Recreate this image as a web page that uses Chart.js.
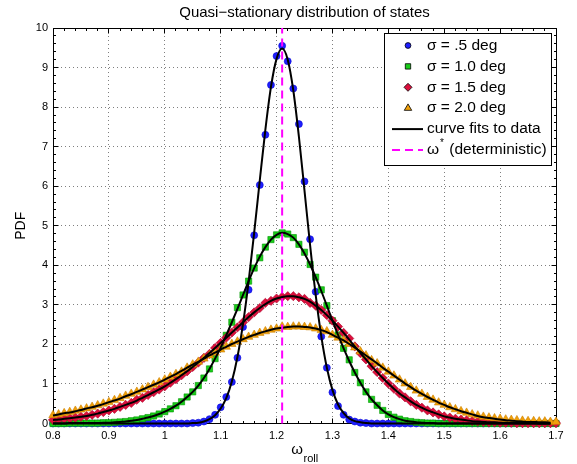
<!DOCTYPE html>
<html>
<head>
<meta charset="utf-8">
<title>Quasi-stationary distribution of states</title>
<script src="https://cdn.jsdelivr.net/npm/chart.js"></script>
<style>
  html, body { margin: 0; padding: 0; background: #fff; }
  canvas { display: block; }
</style>
</head>
<body>
<canvas id="chart" width="577" height="464"></canvas>
<script>
// bin centres of omega_roll
const omega = [
  0.80, 0.81, 0.82, 0.83, 0.84, 0.85, 0.86, 0.87, 0.88, 0.89,
  0.90, 0.91, 0.92, 0.93, 0.94, 0.95, 0.96, 0.97, 0.98, 0.99,
  1.00, 1.01, 1.02, 1.03, 1.04, 1.05, 1.06, 1.07, 1.08, 1.09,
  1.10, 1.11, 1.12, 1.13, 1.14, 1.15, 1.16, 1.17, 1.18, 1.19,
  1.20, 1.21, 1.22, 1.23, 1.24, 1.25, 1.26, 1.27, 1.28, 1.29,
  1.30, 1.31, 1.32, 1.33, 1.34, 1.35, 1.36, 1.37, 1.38, 1.39,
  1.40, 1.41, 1.42, 1.43, 1.44, 1.45, 1.46, 1.47, 1.48, 1.49,
  1.50, 1.51, 1.52, 1.53, 1.54, 1.55, 1.56, 1.57, 1.58, 1.59,
  1.60, 1.61, 1.62, 1.63, 1.64, 1.65, 1.66, 1.67, 1.68, 1.69,
  1.70
];

// sigma = .5 deg
const pdfSigma05 = [
  0, 0, 0, 0, 0, 0, 0, 0, 0, 0,
  0, 0, 0, 0, 0, 0, 0, 0, 0, 0,
  0, 0, 0, 0, 0, 0.01, 0.02, 0.05, 0.11, 0.22,
  0.41, 0.67, 1.05, 1.66, 2.44, 3.38, 4.76, 6.03, 7.30, 8.56,
  9.29, 9.55, 9.16, 8.47, 7.57, 6.12, 4.66, 3.33, 2.20, 1.41,
  0.79, 0.44, 0.22, 0.10, 0.05, 0.02, 0.01, 0, 0, 0,
  0, 0, 0, 0, 0, 0, 0, 0, 0, 0,
  0, 0, 0, 0, 0, 0, 0, 0, 0, 0,
  0, 0, 0, 0, 0, 0, 0, 0, 0, 0,
  0
];
const fitSigma05 = [
  0, 0, 0, 0, 0, 0, 0, 0, 0, 0,
  0, 0, 0, 0, 0, 0, 0, 0, 0, 0,
  0, 0, 0, 0, 0, 0.01, 0.02, 0.05, 0.11, 0.21,
  0.38, 0.64, 1.06, 1.68, 2.52, 3.59, 4.83, 6.15, 7.43, 8.51,
  9.22, 9.48, 9.20, 8.42, 7.25, 5.89, 4.51, 3.25, 2.21, 1.41,
  0.85, 0.48, 0.26, 0.13, 0.06, 0.03, 0.01, 0, 0, 0,
  0, 0, 0, 0, 0, 0, 0, 0, 0, 0,
  0, 0, 0, 0, 0, 0, 0, 0, 0, 0,
  0, 0, 0, 0, 0, 0, 0, 0, 0, 0,
  null
];

// sigma = 1.0 deg
const pdfSigma10 = [
  0, 0, 0, 0.01, 0.01, 0.01, 0.01, 0.01, 0.01, 0.02,
  0.02, 0.03, 0.04, 0.05, 0.07, 0.09, 0.12, 0.15, 0.19, 0.24,
  0.30, 0.37, 0.45, 0.55, 0.67, 0.80, 0.96, 1.15, 1.38, 1.64,
  1.92, 2.23, 2.56, 2.93, 3.25, 3.60, 3.93, 4.19, 4.46, 4.65,
  4.77, 4.82, 4.79, 4.70, 4.53, 4.33, 4.02, 3.70, 3.38, 2.98,
  2.60, 2.24, 1.90, 1.61, 1.29, 1.03, 0.80, 0.61, 0.46, 0.33,
  0.23, 0.16, 0.11, 0.07, 0.05, 0.03, 0.02, 0.01, 0.01, 0,
  0, 0, 0, 0, 0, 0, 0, 0, 0, 0,
  0, 0, 0, 0, 0, 0, 0, 0, 0, 0,
  0
];
const fitSigma10 = [
  0, 0, 0, 0.01, 0.01, 0.01, 0.01, 0.01, 0.01, 0.02,
  0.02, 0.03, 0.04, 0.05, 0.07, 0.09, 0.12, 0.15, 0.19, 0.24,
  0.30, 0.37, 0.45, 0.55, 0.67, 0.80, 0.96, 1.15, 1.38, 1.64,
  1.92, 2.23, 2.56, 2.90, 3.25, 3.60, 3.93, 4.22, 4.46, 4.65,
  4.77, 4.82, 4.79, 4.70, 4.53, 4.30, 4.02, 3.70, 3.35, 2.98,
  2.60, 2.24, 1.90, 1.58, 1.29, 1.03, 0.80, 0.61, 0.46, 0.33,
  0.23, 0.16, 0.11, 0.07, 0.05, 0.03, 0.02, 0.01, 0.01, 0,
  0, 0, 0, 0, 0, 0, 0, 0, 0, 0,
  0, 0, 0, 0, 0, 0, 0, 0, 0, 0,
  null
];

// sigma = 1.5 deg
const pdfSigma15 = [
  0.09, 0.10, 0.12, 0.13, 0.15, 0.17, 0.19, 0.22, 0.25, 0.29,
  0.33, 0.37, 0.42, 0.47, 0.52, 0.60, 0.65, 0.72, 0.79, 0.86,
  0.94, 1.03, 1.12, 1.22, 1.32, 1.43, 1.54, 1.66, 1.76, 1.91,
  2.04, 2.17, 2.30, 2.43, 2.56, 2.69, 2.81, 2.92, 3.05, 3.10,
  3.16, 3.20, 3.22, 3.22, 3.19, 3.15, 3.05, 2.98, 2.87, 2.74,
  2.60, 2.45, 2.29, 2.15, 1.95, 1.78, 1.62, 1.45, 1.30, 1.15,
  1.01, 0.88, 0.76, 0.66, 0.56, 0.47, 0.40, 0.33, 0.28, 0.23,
  0.18, 0.15, 0.12, 0.10, 0.08, 0.06, 0.05, 0.04, 0.03, 0.03,
  0.02, 0.02, 0.02, 0.01, 0.01, 0.01, 0.01, 0.01, 0.01, 0.01,
  0.01
];
const fitSigma15 = [
  0.09, 0.10, 0.12, 0.13, 0.15, 0.17, 0.19, 0.22, 0.25, 0.29,
  0.33, 0.37, 0.42, 0.47, 0.52, 0.58, 0.65, 0.72, 0.79, 0.86,
  0.94, 1.03, 1.12, 1.22, 1.32, 1.43, 1.54, 1.66, 1.78, 1.91,
  2.04, 2.17, 2.30, 2.43, 2.56, 2.69, 2.81, 2.92, 3.02, 3.10,
  3.16, 3.20, 3.22, 3.22, 3.19, 3.15, 3.08, 2.98, 2.87, 2.74,
  2.60, 2.45, 2.29, 2.12, 1.95, 1.78, 1.62, 1.45, 1.30, 1.15,
  1.01, 0.88, 0.76, 0.66, 0.56, 0.47, 0.40, 0.33, 0.28, 0.23,
  0.18, 0.15, 0.12, 0.10, 0.08, 0.06, 0.05, 0.04, 0.03, 0.03,
  0.02, 0.02, 0.01, 0.01, 0.01, 0.01, 0.01, 0, 0, 0,
  null
];

// sigma = 2.0 deg
const pdfSigma20 = [
  0.21, 0.23, 0.26, 0.29, 0.32, 0.35, 0.38, 0.42, 0.46, 0.50,
  0.54, 0.59, 0.64, 0.70, 0.75, 0.80, 0.86, 0.92, 0.98, 1.04,
  1.11, 1.18, 1.25, 1.31, 1.41, 1.49, 1.56, 1.64, 1.72, 1.79,
  1.87, 1.94, 2.01, 2.07, 2.13, 2.19, 2.24, 2.29, 2.33, 2.37,
  2.40, 2.45, 2.44, 2.45, 2.45, 2.44, 2.43, 2.40, 2.36, 2.33,
  2.24, 2.17, 2.10, 2.01, 1.92, 1.82, 1.72, 1.60, 1.52, 1.41,
  1.31, 1.21, 1.11, 1.01, 0.92, 0.83, 0.75, 0.67, 0.60, 0.53,
  0.47, 0.41, 0.36, 0.31, 0.27, 0.23, 0.20, 0.17, 0.15, 0.13,
  0.12, 0.10, 0.09, 0.08, 0.07, 0.06, 0.06, 0.05, 0.05, 0.04,
  0.04
];
const fitSigma20 = [
  0.20, 0.23, 0.26, 0.28, 0.31, 0.34, 0.38, 0.41, 0.45, 0.49,
  0.54, 0.58, 0.63, 0.69, 0.74, 0.80, 0.86, 0.92, 0.98, 1.04,
  1.11, 1.18, 1.25, 1.33, 1.41, 1.49, 1.56, 1.64, 1.72, 1.79,
  1.87, 1.94, 2.01, 2.07, 2.13, 2.19, 2.24, 2.29, 2.33, 2.37,
  2.40, 2.42, 2.44, 2.45, 2.45, 2.44, 2.43, 2.40, 2.36, 2.31,
  2.24, 2.17, 2.10, 2.01, 1.92, 1.82, 1.72, 1.62, 1.52, 1.41,
  1.31, 1.21, 1.11, 1.01, 0.92, 0.83, 0.75, 0.67, 0.60, 0.53,
  0.47, 0.41, 0.36, 0.31, 0.27, 0.23, 0.19, 0.16, 0.14, 0.12,
  0.10, 0.08, 0.07, 0.06, 0.05, 0.04, 0.04, 0.03, 0.03, 0.02,
  null
];

const omegaStar = 1.21;   // deterministic value

const seriesLabels = ['σ = .5 deg', 'σ = 1.0 deg', 'σ = 1.5 deg', 'σ = 2.0 deg'];
const fitLabel = 'curve fits to data';
const starLabel = ' (deterministic)';

const xTickValues = [0.8, 0.9, 1.0, 1.1, 1.2, 1.3, 1.4, 1.5, 1.6, 1.7];
const xTickLabels = ['0.8', '0.9', '1', '1.1', '1.2', '1.3', '1.4', '1.5', '1.6', '1.7'];
const yTickValues = [0, 1, 2, 3, 4, 5, 6, 7, 8, 9, 10];
const yTickLabels = ['0', '1', '2', '3', '4', '5', '6', '7', '8', '9', '10'];

const chartTitle = 'Quasi\u2212stationary distribution of states';
const yTitle = 'PDF';

const FONT = '"Liberation Sans", Arial, Helvetica, sans-serif';

const markers = [
  { data: pdfSigma05, style: 'circle',   radius: 3.5, fill: 'rgb(30,30,255)',  edge: 'rgb(10,10,210)' },
  { data: pdfSigma10, style: 'rect',     radius: 4.4, fill: 'rgb(25,205,25)',  edge: 'rgb(0,150,0)' },
  { data: pdfSigma15, style: 'rectRot',  radius: 4.6, fill: 'rgb(220,15,60)',  edge: 'rgb(170,0,40)' },
  { data: pdfSigma20, style: 'triangle', radius: 4.9, fill: 'rgb(240,160,10)', edge: 'rgb(205,130,0)' }
];
const fits = [fitSigma05, fitSigma10, fitSigma15, fitSigma20];

function toPoints(ys) {
  return omega.map((x, i) => ({ x: x, y: ys[i] }));
}

const datasets = [];
datasets.push({
  label: 'omega*',
  data: [{ x: omegaStar, y: 0 }, { x: omegaStar, y: 10 }],
  borderColor: '#ff00ff', borderWidth: 2, borderDash: [8, 5],
  pointRadius: 0, order: 0, clip: false
});
fits.forEach(f => datasets.push({
  label: fitLabel, data: toPoints(f),
  borderColor: '#000', borderWidth: 2, pointRadius: 0,
  cubicInterpolationMode: 'monotone', order: 1, clip: false
}));
markers.forEach((m, i) => datasets.push({
  label: seriesLabels[i], data: toPoints(m.data),
  showLine: false, pointStyle: m.style, pointRadius: m.radius,
  pointBackgroundColor: m.fill, pointBorderColor: m.edge, pointBorderWidth: 0.6,
  order: 5 - i, clip: false
}));

function crisp(v) { return Math.round(v - 0.5) + 0.5 }

const matlabAxes = {
  id: 'matlabAxes',
  beforeDatasetsDraw(chart) {
    const { ctx, chartArea: a, scales: { x, y } } = chart;
    const L = crisp(a.left), R = crisp(a.right), T = crisp(a.top), B = crisp(a.bottom);
    ctx.save();
    ctx.strokeStyle = '#000';
    ctx.lineWidth = 1;
    ctx.beginPath();
    ctx.rect(L, T, R - L, B - T);
    const xt = x.ticks.map(t => t.value), yt = y.ticks.map(t => t.value);
    xt.forEach((v, i) => {
      const p = crisp(x.getPixelForValue(v));
      ctx.moveTo(p, B); ctx.lineTo(p, B - 5);
      ctx.moveTo(p, T); ctx.lineTo(p, T + 5);
      if (i < xt.length - 1) {
        for (let k = 1; k < 5; k++) {
          const q = crisp(x.getPixelForValue(v + (xt[i + 1] - v) * k / 5));
          ctx.moveTo(q, B); ctx.lineTo(q, B - 2.5);
          ctx.moveTo(q, T); ctx.lineTo(q, T + 2.5);
        }
      }
    });
    yt.forEach((v, i) => {
      const p = crisp(y.getPixelForValue(v));
      ctx.moveTo(L, p); ctx.lineTo(L + 5, p);
      ctx.moveTo(R, p); ctx.lineTo(R - 5, p);
      if (i < yt.length - 1) {
        for (let k = 1; k < 5; k++) {
          const q = crisp(y.getPixelForValue(v + (yt[i + 1] - v) * k / 5));
          ctx.moveTo(L, q); ctx.lineTo(L + 2.5, q);
          ctx.moveTo(R, q); ctx.lineTo(R - 2.5, q);
        }
      }
    });
    ctx.stroke();
    ctx.restore();
  },
  afterDraw(chart) {
    const { ctx, chartArea: a } = chart;
    const cx = (a.left + a.right) / 2;
    ctx.save();
    ctx.fillStyle = '#000';

    // title
    ctx.font = '15px ' + FONT;
    ctx.textAlign = 'center';
    ctx.textBaseline = 'middle';
    ctx.fillText(chartTitle, cx, 13);

    // y title
    ctx.save();
    ctx.translate(21, (a.top + a.bottom) / 2);
    ctx.rotate(-Math.PI / 2);
    ctx.font = '14px ' + FONT;
    ctx.fillText(yTitle, 0, 0);
    ctx.restore();

    // x title: omega with subscript "roll"
    ctx.textAlign = 'left';
    ctx.font = '15px ' + FONT;
    const w1 = ctx.measureText('ω').width;
    ctx.font = '11px ' + FONT;
    const w2 = ctx.measureText('roll').width;
    const sx = cx - (w1 + w2) / 2;
    ctx.font = '15px ' + FONT;
    ctx.fillText('ω', sx, 450);
    ctx.font = '11px ' + FONT;
    ctx.fillText('roll', sx + w1 + 0.5, 459);

    // legend
    const bx = 384.5, by = 33.5, bw = 167, bh = 132;
    ctx.fillStyle = '#fff';
    ctx.fillRect(bx, by, bw, bh);
    ctx.strokeStyle = '#000';
    ctx.lineWidth = 1;
    ctx.strokeRect(bx, by, bw, bh);

    const rowY = i => 45.5 + i * 20.9;
    const textX = 427;
    ctx.font = '15.5px ' + FONT;
    ctx.textBaseline = 'middle';
    markers.forEach((m, i) => {
      ctx.fillStyle = m.fill;
      ctx.strokeStyle = '#000';
      ctx.lineWidth = 0.8;
      Chart.helpers.drawPoint(ctx, { pointStyle: m.style, radius: m.radius - 0.6, rotation: 0, borderWidth: 0.8 }, 408, rowY(i));
      ctx.fillStyle = '#000';
      ctx.font = '15.5px ' + FONT;
      ctx.fillText(seriesLabels[i], textX, rowY(i));
    });
    // fit line sample
    ctx.strokeStyle = '#000';
    ctx.lineWidth = 2;
    ctx.setLineDash([]);
    ctx.beginPath();
    ctx.moveTo(392, rowY(4)); ctx.lineTo(423, rowY(4));
    ctx.stroke();
    ctx.fillStyle = '#000';
    ctx.fillText(fitLabel, textX, rowY(4));
    // omega* sample
    ctx.strokeStyle = '#ff00ff';
    ctx.setLineDash([8, 5]);
    ctx.beginPath();
    ctx.moveTo(392, rowY(5)); ctx.lineTo(423, rowY(5));
    ctx.stroke();
    ctx.setLineDash([]);
    ctx.fillText('ω', textX, rowY(5));
    const wo = ctx.measureText('ω').width;
    ctx.font = '10px ' + FONT;
    ctx.fillText('*', textX + wo + 1, rowY(5) - 7);
    const ws = ctx.measureText('*').width;
    ctx.font = '15.5px ' + FONT;
    ctx.fillText(starLabel, textX + wo + ws + 2, rowY(5));
    ctx.restore();
  }
};

const tickFont = { family: FONT, size: 11 };

new Chart(document.getElementById('chart').getContext('2d'), {
  type: 'line',
  data: { datasets },
  options: {
    responsive: false,
    animation: false,
    events: [],
    layout: { padding: { top: 28, right: 21, bottom: 0, left: 0 } },
    plugins: {
      legend: { display: false },
      tooltip: { enabled: false },
      title: { display: false }
    },
    scales: {
      x: {
        type: 'linear', min: 0.8, max: 1.7,
        afterBuildTicks: s => { s.ticks = xTickValues.map(v => ({ value: v })) },
        afterFit: s => { s.height = 40.5 },
        ticks: {
          color: '#000', font: tickFont, padding: 6, maxRotation: 0, autoSkip: false,
          callback: (v, i) => xTickLabels[i]
        },
        grid: { color: 'rgba(0,0,0,0.5)', lineWidth: 1, drawTicks: false },
        border: { display: false, dash: [1, 3] }
      },
      y: {
        type: 'linear', min: 0, max: 10,
        afterBuildTicks: s => { s.ticks = yTickValues.map(v => ({ value: v })) },
        afterFit: s => { s.width = 53 },
        ticks: {
          color: '#000', font: tickFont, padding: 5,
          callback: (v, i) => yTickLabels[i]
        },
        grid: { color: 'rgba(0,0,0,0.5)', lineWidth: 1, drawTicks: false },
        border: { display: false, dash: [1, 3] }
      }
    }
  },
  plugins: [matlabAxes]
});
</script>
</body>
</html>
